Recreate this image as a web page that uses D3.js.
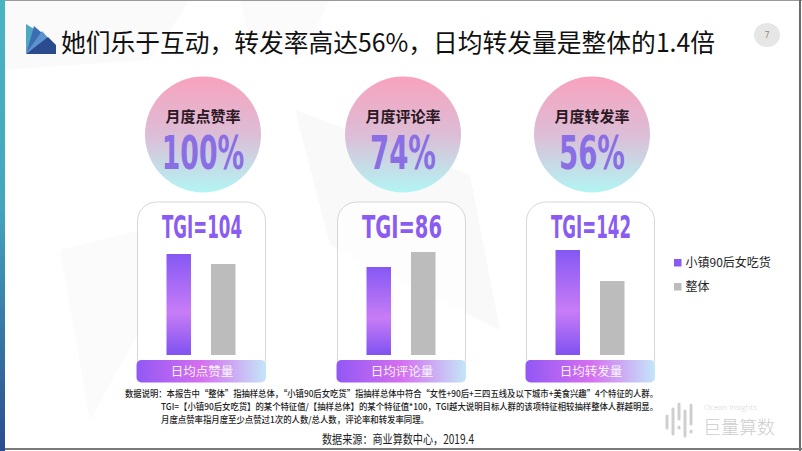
<!DOCTYPE html>
<html><head><meta charset="utf-8">
<script src="https://cdn.jsdelivr.net/npm/d3@7"></script>
<style>body{margin:0;background:#fff}svg{display:block}</style>
</head><body>
<script>
// ---------- data ----------
const titleText = "她们乐于互动，转发率高达56%，日均转发量是整体的1.4倍";
const rateTitles = ["月度点赞率", "月度评论率", "月度转发率"];
const rateValues = ["100%", "74%", "56%"];
const metrics = ["日均点赞量", "日均评论量", "日均转发量"];
const tgiValues = [104, 86, 142];
const series = ["小镇90后女吃货", "整体"];
const targetValues = [101, 88, 105];
const overallValues = [91, 103, 74];
const notes = [
  "数据说明：本报告中“整体”指抽样总体，“小镇90后女吃货”指抽样总体中符合“女性+90后+三四五线及以下城市+美食兴趣”4个特征的人群。",
  "TGI=【小镇90后女吃货】的某个特征值/【抽样总体】的某个特征值*100，TGI越大说明目标人群的该项特征相较抽样整体人群越明显。",
  "月度点赞率指月度至少点赞过1次的人数/总人数，评论率和转发率同理。"
];
const sourceText = "数据来源：商业算数中心，2019.4";
const pageNo = "7";

// ---------- layout ----------
const W = 802, H = 451;
const svg = d3.select("body").append("svg").attr("width", W).attr("height", H);
const defs = svg.append("defs");

function lin(id, x1, y1, x2, y2, stops) {
  const g = defs.append("linearGradient").attr("id", id)
    .attr("x1", x1).attr("y1", y1).attr("x2", x2).attr("y2", y2);
  stops.forEach(s => g.append("stop").attr("offset", s[0]).attr("stop-color", s[1]));
}
lin("gCircle", 0, 0, 0, 1, [[0, "#f8a2bd"], [0.5, "#ddbdd6"], [1, "#b2f5f4"]]);
lin("gBar", 0, 0, 0, 1, [[0, "#8558f4"], [0.58, "#c87cf6"], [1, "#7f52f1"]]);
lin("gLabel", 0, 0, 1, 0, [[0, "#9158f4"], [0.5, "#d56ff0"], [1, "#c3e6f8"]]);
lin("gStripe", 0, 0, 0, 1, [[0, "#4ab4c2"], [0.45, "#45a6bf"], [1, "#2b4c90"]]);

// background watermark shapes (very faint)
svg.append("path").attr("d", "M0,0 L190,0 L150,60 L0,70 Z").attr("fill", "#fafafa");
svg.append("path").attr("d", "M240,0 L330,0 L300,60 L250,40 Z").attr("fill", "#fbfbfb");
svg.append("path").attr("d", "M295,110 L470,175 L500,330 L330,245 Z").attr("fill", "#f9f9f9");
svg.append("path").attr("d", "M60,250 L140,230 L140,330 L90,420 Z").attr("fill", "#fbfbfb");

// frame
svg.append("rect").attr("x", 0).attr("y", 0).attr("width", 5).attr("height", H).attr("fill", "url(#gStripe)");
svg.append("line").attr("x1", 5).attr("x2", W).attr("y1", 0.5).attr("y2", 0.5).attr("stroke", "#9a9a9a");
svg.append("line").attr("x1", W - 2).attr("x2", W - 2).attr("y1", 0).attr("y2", H).attr("stroke", "#6a6a6a").attr("stroke-width", 2);
svg.append("line").attr("x1", 5).attr("x2", W).attr("y1", H - 2).attr("y2", H - 2).attr("stroke", "#7a7a7a").attr("stroke-width", 2);

// logo fan
const logo = svg.append("g");
[
  ["#4fa8c2", "26,54 26,24 34,29"],
  ["#3c6db2", "26,54 34,26 42,33"],
  ["#5b93cf", "26,54 42,31 49,39"],
  ["#2b4b8f", "26,54 48,37 56,45 56,54"]
].forEach(p => logo.append("polygon").attr("points", p[1]).attr("fill", p[0]));

// title
svg.append("text").attr("x", 61).attr("y", 52)
  .attr("font-family", "'Noto Sans CJK SC', sans-serif").attr("font-size", 25)
  .attr("fill", "#111").attr("textLength", 654).attr("lengthAdjust", "spacingAndGlyphs")
  .text(titleText);

// page number
svg.append("ellipse").attr("cx", 767).attr("cy", 35).attr("rx", 13).attr("ry", 12).attr("fill", "#e6e6e6");
svg.append("text").attr("x", 767).attr("y", 38).attr("text-anchor", "middle")
  .attr("font-family", "'Noto Sans', sans-serif").attr("font-size", 8).attr("fill", "#888").text(pageNo);

// panel scales
const cardLeft = d3.scaleOrdinal().domain(metrics).range([137, 337, 526]);
const cardW = 128;
const xInner = d3.scaleBand().domain(series).range([29.5, 98.5]).paddingInner(0.449).paddingOuter(0);
const y = d3.scaleLinear().domain([0, 105]).range([355, 250]);
const fillFor = { [series[0]]: "url(#gBar)", [series[1]]: "#bcbcbc" };

const panels = metrics.map((m, i) => ({
  metric: m, rateTitle: rateTitles[i], rate: rateValues[i], tgi: tgiValues[i],
  values: [{ s: series[0], v: targetValues[i] }, { s: series[1], v: overallValues[i] }]
}));

const pg = svg.selectAll("g.panel").data(panels).join("g").attr("class", "panel")
  .attr("transform", d => `translate(${cardLeft(d.metric)},0)`);

// circles
const cx = cardW / 2 + 2, cy = 134.5, r = 58;
pg.append("circle").attr("cx", cx).attr("cy", cy).attr("r", r).attr("fill", "url(#gCircle)");
pg.append("text").attr("x", cx).attr("y", 122).attr("text-anchor", "middle")
  .attr("font-family", "'Noto Sans CJK SC', sans-serif").attr("font-weight", 700)
  .attr("font-size", 15).attr("fill", "#2a1824").text(d => d.rateTitle);
pg.append("text").attr("x", cx).attr("y", 169).attr("text-anchor", "middle")
  .attr("font-family", "'DejaVu Sans Condensed', 'DejaVu Sans', sans-serif").attr("font-weight", 700)
  .attr("font-size", 47).attr("fill", "#8a6ee4")
  .attr("textLength", d => (d.rate.length - 1) * 16.5 + 33).attr("lengthAdjust", "spacingAndGlyphs")
  .text(d => d.rate);

// cards
pg.append("rect").attr("x", 0.5).attr("y", 202).attr("width", cardW).attr("height", 176).attr("rx", 19)
  .attr("fill", "#fff").attr("fill-opacity", 0.6).attr("stroke", "#d6d6d6");
pg.append("text").attr("x", cardW / 2 + 1).attr("y", 237.5).attr("text-anchor", "middle")
  .attr("font-family", "'DejaVu Sans Condensed', 'DejaVu Sans', sans-serif").attr("font-weight", 700)
  .attr("font-size", 32).attr("fill", "#8a5cf2")
  .attr("textLength", 80).attr("lengthAdjust", "spacingAndGlyphs")
  .text(d => "TGI=" + d.tgi);

// bars
pg.selectAll("rect.bar").data(d => d.values).join("rect").attr("class", "bar")
  .attr("x", d => xInner(d.s)).attr("width", xInner.bandwidth())
  .attr("y", d => y(d.v)).attr("height", d => y(0) - y(d.v))
  .attr("fill", d => fillFor[d.s]);

// label bar
pg.append("rect").attr("x", -0.5).attr("y", 360).attr("width", cardW + 1.5).attr("height", 22.5).attr("rx", 5)
  .attr("fill", "url(#gLabel)");
pg.append("text").attr("x", cardW / 2 + 1).attr("y", 376).attr("text-anchor", "middle")
  .attr("font-family", "'Noto Sans CJK SC', sans-serif").attr("font-size", 12.5)
  .attr("fill", "#fff").attr("fill-opacity", 0.92).text(d => d.metric);

// legend
const lg = svg.append("g").selectAll("g").data(series).join("g")
  .attr("transform", (d, i) => `translate(674,${259 + i * 24})`);
lg.append("rect").attr("width", 7.5).attr("height", 7.5).attr("fill", (d, i) => i === 0 ? "#8a5af4" : "#bcbcbc");
lg.append("text").attr("x", 11.5).attr("y", 7.8)
  .attr("font-family", "'Noto Sans CJK SC', sans-serif").attr("font-size", 12).attr("fill", "#222").text(d => d);

// notes
const noteX = [125, 161, 161], noteY = [397, 410, 423], noteLen = [533, 497, 268];
svg.append("g").selectAll("text").data(notes).join("text")
  .attr("x", (d, i) => noteX[i]).attr("y", (d, i) => noteY[i])
  .attr("font-family", "'Noto Sans CJK SC', sans-serif").attr("font-size", 9).attr("font-weight", 500)
  .attr("fill", "#1e1e1e")
  .attr("textLength", (d, i) => noteLen[i]).attr("lengthAdjust", "spacingAndGlyphs")
  .text(d => d);
svg.append("text").attr("x", 322).attr("y", 444)
  .attr("font-family", "'Noto Sans CJK SC', sans-serif").attr("font-size", 12.5)
  .attr("fill", "#1e1e1e").attr("textLength", 152).attr("lengthAdjust", "spacingAndGlyphs")
  .text(sourceText);

// Ocean Insights logo
const oi = svg.append("g").attr("stroke", "#cfcfcf").attr("stroke-linecap", "round").attr("stroke-width", 3);
[[667, 416, 428], [673, 409, 434], [679, 404, 419], [679, 427, 428], [685, 411, 436], [691, 405, 424], [691, 431, 432]]
  .forEach(b => oi.append("line").attr("x1", b[0]).attr("x2", b[0]).attr("y1", b[1]).attr("y2", b[2]));
svg.append("text").attr("x", 704).attr("y", 410)
  .attr("font-family", "'Open Sans', sans-serif").attr("font-size", 8).attr("font-weight", 300)
  .attr("fill", "#cfcfcf").text("Ocean Insights");
svg.append("text").attr("x", 703).attr("y", 434)
  .attr("font-family", "'Noto Sans CJK SC', sans-serif").attr("font-size", 18).attr("font-weight", 300)
  .attr("fill", "#cdcdcd").text("巨量算数");
</script>
</body></html>
